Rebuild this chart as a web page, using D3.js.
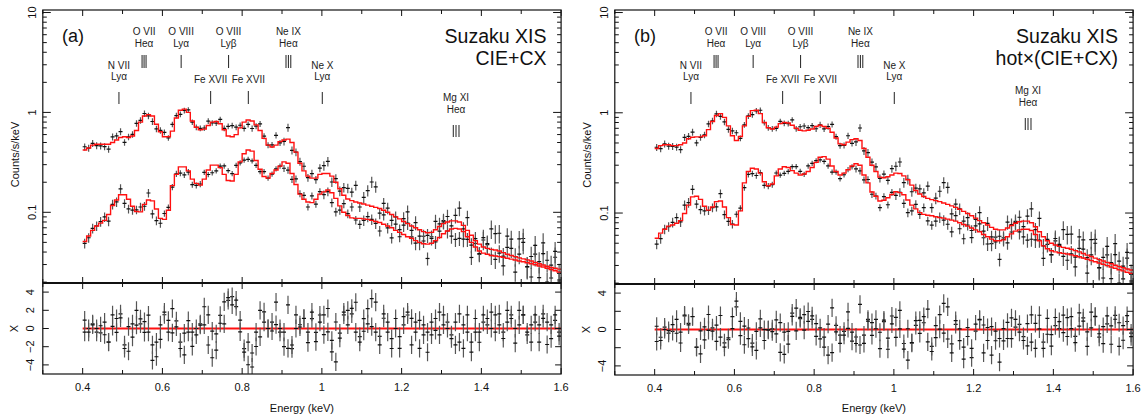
<!DOCTYPE html>
<html><head><meta charset="utf-8">
<script src="https://cdn.jsdelivr.net/npm/d3@7"></script>
<style>
body{margin:0;background:#fff}
svg text{font-family:"Liberation Sans",Arial,Helvetica,sans-serif}
</style>
</head><body>
<svg id="chart" width="1148" height="418"></svg>
<script>
// ---------------- data ----------------
// spectral channel grid (keV)
const binStart = 0.40, binWidth = 0.01;

// observed spectra (counts/s/keV), one value per 0.01 keV channel, 0.40-1.60 keV
const countsUpper = [
0.453,0.440,0.490,0.465,0.462,0.455,0.429,0.568,0.581,0.642,
0.502,0.569,0.603,0.776,0.831,0.975,0.922,0.811,0.683,0.660,
0.632,0.556,0.758,0.930,0.957,1.046,1.060,0.799,0.710,0.693,
0.698,0.820,0.785,0.780,0.850,0.693,0.726,0.738,0.711,0.744,
0.693,0.760,0.690,0.730,0.767,0.578,0.470,0.473,0.590,0.496,
0.512,0.705,0.417,0.400,0.322,0.289,0.222,0.244,0.212,0.277,
0.293,0.323,0.201,0.217,0.163,0.177,0.174,0.159,0.186,0.113,
0.141,0.165,0.201,0.180,0.098,0.123,0.110,0.083,0.090,0.067,
0.0865,0.101,0.0567,0.0788,0.0496,0.0576,0.0587,0.0567,0.0813,0.0647,
0.0826,0.0908,0.0733,0.0931,0.110,0.0539,0.0886,0.0470,0.0487,0.0382,
0.0528,0.0475,0.0683,0.0613,0.0617,0.0364,0.0445,0.0540,0.0360,0.0382,
0.0547,0.0284,0.0361,0.0382,0.0222,0.0495,0.0200,0.0220,0.0355,0.0245];

const countsLower = [
0.0489,0.0556,0.0690,0.0730,0.0807,0.0899,0.0815,0.120,0.127,0.172,
0.123,0.108,0.105,0.106,0.113,0.115,0.156,0.0963,0.0824,0.0777,
0.0973,0.112,0.179,0.243,0.247,0.237,0.253,0.189,0.186,0.192,
0.251,0.239,0.249,0.260,0.290,0.291,0.261,0.244,0.295,0.313,
0.333,0.339,0.327,0.295,0.256,0.256,0.220,0.241,0.272,0.290,
0.276,0.264,0.214,0.216,0.154,0.148,0.113,0.146,0.121,0.161,
0.150,0.161,0.125,0.101,0.105,0.122,0.0969,0.113,0.0837,0.0757,
0.0830,0.0904,0.0850,0.0773,0.0650,0.0941,0.0697,0.0554,0.0760,0.0569,
0.0745,0.0781,0.0659,0.0491,0.0578,0.0516,0.0345,0.0547,0.0505,0.0767,
0.0803,0.0650,0.0578,0.0536,0.0548,0.0684,0.0536,0.0353,0.0546,0.0385,
0.0557,0.0487,0.0370,0.0338,0.0391,0.0291,0.0578,0.0436,0.0252,0.0543,
0.0500,0.0286,0.0225,0.0466,0.0321,0.0385,0.0331,0.0296,0.0406,0.0210];

// 1-sigma relative errors, per 0.1 keV band starting at 0.4 keV
const relErrUpper = [0.08,0.075,0.065,0.065,0.07,0.09,0.11,0.13,0.16,0.17,0.21,0.25];
const relErrLower = [0.11,0.10,0.07,0.06,0.06,0.08,0.10,0.12,0.15,0.16,0.20,0.24];

// model (a) CIE+CX
const modelUpperA = [
0.42,0.44,0.47,0.48,0.48,0.48,0.48,0.50,0.53,0.56,
0.57,0.56,0.58,0.66,0.80,0.92,0.95,0.92,0.76,0.64,
0.57,0.57,0.65,0.88,1.05,1.08,1.00,0.82,0.71,0.67,
0.68,0.74,0.80,0.81,0.77,0.67,0.58,0.57,0.60,0.70,
0.80,0.84,0.82,0.75,0.66,0.55,0.47,0.45,0.47,0.51,
0.53,0.54,0.50,0.40,0.31,0.26,0.23,0.22,0.22,0.24,
0.245,0.245,0.23,0.20,0.172,0.148,0.136,0.131,0.127,0.124,
0.121,0.118,0.115,0.112,0.109,0.105,0.100,0.095,0.090,0.086,
0.081,0.077,0.073,0.070,0.067,0.064,0.0625,0.063,0.067,0.072,
0.077,0.080,0.082,0.082,0.080,0.074,0.066,0.059,0.052,0.048,
0.045,0.0435,0.0425,0.042,0.041,0.0395,0.038,0.037,0.036,0.035,
0.0342,0.0334,0.0325,0.0315,0.0305,0.0297,0.0288,0.0281,0.0275,0.027];
const modelLowerA = [
0.051,0.058,0.066,0.073,0.078,0.083,0.095,0.117,0.133,0.150,
0.150,0.135,0.115,0.102,0.101,0.120,0.133,0.130,0.108,0.087,
0.085,0.105,0.185,0.240,0.285,0.285,0.260,0.215,0.195,0.187,
0.215,0.265,0.297,0.297,0.280,0.240,0.208,0.206,0.240,0.320,
0.385,0.420,0.410,0.330,0.270,0.228,0.220,0.245,0.265,0.290,
0.320,0.310,0.245,0.190,0.152,0.135,0.127,0.125,0.135,0.152,
0.160,0.167,0.157,0.138,0.116,0.100,0.093,0.088,0.087,0.087,
0.086,0.085,0.083,0.081,0.079,0.076,0.073,0.070,0.066,0.063,
0.060,0.057,0.055,0.052,0.050,0.0485,0.048,0.049,0.052,0.056,
0.061,0.065,0.068,0.069,0.068,0.064,0.057,0.050,0.045,0.041,
0.039,0.038,0.037,0.0365,0.036,0.0355,0.0347,0.034,0.0333,0.0326,
0.032,0.0313,0.0306,0.0298,0.029,0.0283,0.0275,0.0268,0.026,0.0252];

// model (b) hot x (CIE+CX)
const modelUpperB = [
0.44,0.47,0.48,0.48,0.47,0.47,0.48,0.50,0.55,0.57,
0.575,0.575,0.59,0.68,0.82,0.94,0.98,0.90,0.74,0.59,
0.53,0.58,0.74,0.92,1.05,1.06,0.98,0.80,0.71,0.69,
0.72,0.78,0.80,0.79,0.75,0.70,0.67,0.66,0.67,0.69,
0.73,0.75,0.73,0.70,0.64,0.56,0.49,0.48,0.51,0.54,
0.55,0.53,0.44,0.36,0.30,0.26,0.228,0.225,0.23,0.24,
0.25,0.248,0.235,0.215,0.19,0.168,0.155,0.146,0.14,0.136,
0.133,0.13,0.126,0.122,0.118,0.114,0.109,0.104,0.099,0.094,
0.089,0.084,0.080,0.076,0.072,0.069,0.068,0.068,0.071,0.075,
0.079,0.082,0.083,0.083,0.080,0.073,0.065,0.058,0.053,0.050,
0.048,0.0465,0.0455,0.0445,0.0435,0.0422,0.041,0.0395,0.038,0.0368,
0.0355,0.0343,0.0332,0.0322,0.0312,0.0302,0.0293,0.0285,0.0277,0.027];
const modelLowerB = [
0.056,0.063,0.069,0.074,0.076,0.079,0.084,0.099,0.120,0.145,
0.147,0.137,0.117,0.107,0.115,0.130,0.132,0.115,0.090,0.077,
0.076,0.105,0.200,0.260,0.280,0.275,0.250,0.205,0.187,0.195,
0.235,0.275,0.29,0.285,0.265,0.25,0.24,0.245,0.26,0.285,
0.32,0.36,0.365,0.345,0.295,0.26,0.24,0.25,0.27,0.295,
0.31,0.30,0.24,0.20,0.162,0.147,0.132,0.134,0.142,0.153,
0.163,0.160,0.152,0.135,0.12,0.11,0.101,0.097,0.095,0.094,
0.092,0.090,0.089,0.087,0.085,0.083,0.080,0.077,0.074,0.071,
0.068,0.065,0.061,0.058,0.055,0.053,0.053,0.054,0.058,0.062,
0.066,0.068,0.069,0.069,0.067,0.061,0.053,0.047,0.044,0.042,
0.041,0.0402,0.0396,0.039,0.0383,0.0375,0.0366,0.0356,0.0346,0.0336,
0.0327,0.0318,0.0309,0.0299,0.029,0.0281,0.0272,0.0265,0.0257,0.025];

// axis ticks
const energyTicks = [0.4,0.6,0.8,1,1.2,1.4,1.6];
const energyMinorTicks = [0.3,0.5,0.7,0.9,1.1,1.3,1.5];
const countTicks = [0.1,1,10];
const residTicksA = [4,2,0,-2,-4];
const residTicksB = [4,0,-4];
const residTickMarks = [4,2,0,-2,-4];

// emission line identifications
const lineIons = ["N VII","O VII","O VIII","Fe XVII","O VIII","Fe XVII","Ne IX","Ne X","Mg XI"];
const lineTransitions = ["Lyα","Heα","Lyα","","Lyβ","","Heα","Lyα","Heα"];
const lineEnergies = [[0.491],[0.549,0.554,0.559],[0.647],[0.721],[0.766],[0.8155],[0.910,0.916,0.922],[1.001],[1.3296,1.3364,1.3439]];

const panelTags = ["(a)","(b)"];
const panelTitles = ["Suzaku XIS","Suzaku XIS"];
const panelModels = ["CIE+CX","hot×(CIE+CX)"];

// ---------------- layout ----------------
const svg = d3.select("#chart");
const FONT = '"Liberation Sans",Arial,Helvetica,sans-serif';
const lineTier = ["low","high","high","fe","high","fe","high","low","mg"];
const tierLayout = {
  high:{t1:34.5,t2:46.5,m0:55,m1:68},
  low:{t1:68.5,t2:80,m0:92,m1:104},
  fe:{t1:83,t2:null,m0:91,m1:104},
  mg:{t1:101,t2:113,m0:125,m1:137}
};
const panels = [
  {x0:42.8,x1:561.1,yTop:10,yMid:283,yBot:374,mUp:modelUpperA,mLo:modelLowerA,rTicks:residTicksA,mgShift:0,tagX:62,titleX:546.5},
  {x0:614.8,x1:1133.1,yTop:10,yMid:284,yBot:375,mUp:modelUpperB,mLo:modelLowerB,rTicks:residTicksB,mgShift:-7,tagX:634,titleX:1118}
];

const nBins = countsUpper.length;
function errOf(rel, i){ return rel[Math.min(rel.length-1, Math.floor(i/10))]; }

panels.forEach((p, pi) => {
  const g = svg.append("g");
  const x = d3.scaleLinear().domain([0.3,1.6]).range([p.x0,p.x1]);
  const y = d3.scaleLog().domain([0.0196,10.6]).range([p.yMid,p.yTop]);
  const yr = d3.scaleLinear().domain([-5,5]).range([p.yBot,p.yMid]);

  const defs = g.append("defs");
  defs.append("clipPath").attr("id","ct"+pi).append("rect")
    .attr("x",p.x0).attr("y",p.yTop).attr("width",p.x1-p.x0).attr("height",p.yMid-p.yTop);
  defs.append("clipPath").attr("id","cr"+pi).append("rect")
    .attr("x",p.x0).attr("y",p.yMid).attr("width",p.x1-p.x0).attr("height",p.yBot-p.yMid);

  const top = g.append("g").attr("clip-path",`url(#ct${pi})`);
  const res = g.append("g").attr("clip-path",`url(#cr${pi})`);

  const spectra = [
    {c:countsUpper, rel:relErrUpper, m:p.mUp},
    {c:countsLower, rel:relErrLower, m:p.mLo}
  ];

  // residual zero line
  res.append("line").attr("x1",x(0.4)).attr("x2",x(1.6)).attr("y1",yr(0)).attr("y2",yr(0))
    .attr("stroke","#ff1010").attr("stroke-width",2);

  spectra.forEach(s => {
    for (let i=0;i<nBins;i++){
      const lo = binStart + i*binWidth, hi = lo + binWidth, ec = (lo+hi)/2;
      const c = s.c[i], e = errOf(s.rel,i)*c;
      top.append("line").attr("x1",x(ec)).attr("x2",x(ec)).attr("y1",y(Math.max(c-e,0.001))).attr("y2",y(c+e))
        .attr("stroke","#555").attr("stroke-width",1.2);
      top.append("line").attr("x1",x(lo)).attr("x2",x(hi)).attr("y1",y(c)).attr("y2",y(c))
        .attr("stroke","#111").attr("stroke-width",1.2);
      const r = (c - s.m[i])/e;
      res.append("line").attr("x1",x(ec)).attr("x2",x(ec)).attr("y1",yr(r-1)).attr("y2",yr(r+1))
        .attr("stroke","#555").attr("stroke-width",1.2);
      res.append("line").attr("x1",x(lo)).attr("x2",x(hi)).attr("y1",yr(r)).attr("y2",yr(r))
        .attr("stroke","#111").attr("stroke-width",1.2);
    }
  });

  // model step lines
  const stepLine = d3.line().x(d=>x(d[0])).y(d=>y(d[1]));
  spectra.forEach(s => {
    const pts = [];
    s.m.forEach((v,i)=>{ const lo=binStart+i*binWidth; pts.push([lo,v],[lo+binWidth,v]); });
    top.append("path").attr("d",stepLine(pts)).attr("fill","none")
      .attr("stroke","#ff1010").attr("stroke-width",1.4);
  });

  // frames
  const ax = g.append("g").attr("stroke","#111").attr("fill","none");
  ax.append("rect").attr("x",p.x0).attr("y",p.yTop).attr("width",p.x1-p.x0).attr("height",p.yBot-p.yTop).attr("stroke-width",1.2);
  ax.append("line").attr("x1",p.x0).attr("x2",p.x1).attr("y1",p.yMid).attr("y2",p.yMid).attr("stroke-width",1.8);

  // x ticks
  const xt = [...energyTicks.map(v=>[v,6]), ...energyMinorTicks.map(v=>[v,4])];
  xt.forEach(([v,L])=>{
    const xx = x(v);
    ax.append("line").attr("x1",xx).attr("x2",xx).attr("y1",p.yTop).attr("y2",p.yTop+L);
    ax.append("line").attr("x1",xx).attr("x2",xx).attr("y1",p.yMid-L).attr("y2",p.yMid+L);
    ax.append("line").attr("x1",xx).attr("x2",xx).attr("y1",p.yBot).attr("y2",p.yBot-L);
  });
  // log y ticks
  [0.01,0.1,1].forEach(d=>{
    for(let k=1;k<=9;k++){
      const v=k*d; if(v<0.0196||v>10.6) continue;
      const L = k===1?8:4, yy=y(v);
      ax.append("line").attr("x1",p.x0).attr("x2",p.x0+L).attr("y1",yy).attr("y2",yy);
      ax.append("line").attr("x1",p.x1).attr("x2",p.x1-L).attr("y1",yy).attr("y2",yy);
    }
  });
  { const yy=y(10); ax.append("line").attr("x1",p.x0).attr("x2",p.x0+8).attr("y1",yy).attr("y2",yy);
    ax.append("line").attr("x1",p.x1).attr("x2",p.x1-8).attr("y1",yy).attr("y2",yy); }
  residTickMarks.forEach(v=>{
    const yy=yr(v);
    ax.append("line").attr("x1",p.x0).attr("x2",p.x0+6).attr("y1",yy).attr("y2",yy);
    ax.append("line").attr("x1",p.x1).attr("x2",p.x1-6).attr("y1",yy).attr("y2",yy);
  });

  // tick labels
  const tg = g.append("g").attr("font-family",FONT).attr("font-size",11).attr("fill","#111");
  energyTicks.forEach(v=>{
    tg.append("text").attr("x",x(v)).attr("y",p.yBot+16.5).attr("text-anchor","middle").text(d3.format("~g")(v));
  });
  countTicks.forEach(v=>{
    tg.append("text").attr("transform",`translate(${p.x0-7.3},${y(v)}) rotate(-90)`).attr("text-anchor","middle").text(String(v));
  });
  p.rTicks.forEach(v=>{
    tg.append("text").attr("transform",`translate(${p.x0-8.8},${yr(v)}) rotate(-90)`).attr("text-anchor","middle")
      .text(v<0?"\u2212"+Math.abs(v):String(v));
  });
  tg.append("text").attr("transform",`translate(${p.x0-23.8},${(p.yTop+p.yMid)/2+8}) rotate(-90)`).attr("text-anchor","middle").text("Counts/s/keV");
  tg.append("text").attr("transform",`translate(${p.x0-25.3},${yr(0)}) rotate(-90)`).attr("text-anchor","middle").text("X");
  tg.append("text").attr("x",(p.x0+p.x1)/2).attr("y",411.5).attr("text-anchor","middle").text("Energy (keV)");

  // titles
  const tt = g.append("g").attr("font-family",FONT).attr("fill","#111");
  tt.append("text").attr("x",p.tagX).attr("y",41.5).attr("font-size",18).text(panelTags[pi]);
  tt.append("text").attr("x",p.titleX).attr("y",42.5).attr("font-size",19.5).attr("text-anchor","end").text(panelTitles[pi]);
  tt.append("text").attr("x",p.titleX).attr("y",65).attr("font-size",19.5).attr("text-anchor","end").text(panelModels[pi]);

  // line identifications
  const lg = g.append("g").attr("font-family",FONT).attr("font-size",10).attr("fill","#222");
  lineIons.forEach((ion,k)=>{
    const L = tierLayout[lineTier[k]];
    const sh = lineTier[k]==="mg" ? p.mgShift : 0;
    const es = lineEnergies[k];
    const cx = x(d3.mean(es));
    lg.append("text").attr("x",cx).attr("y",L.t1+sh).attr("text-anchor","middle").text(ion);
    if (lineTransitions[k]) lg.append("text").attr("x",cx).attr("y",L.t2+sh).attr("text-anchor","middle").text(lineTransitions[k]);
    es.forEach(e=>{
      lg.append("line").attr("x1",x(e)).attr("x2",x(e)).attr("y1",L.m0+sh).attr("y2",L.m1+sh)
        .attr("stroke","#222").attr("stroke-width",1);
    });
  });
});
</script>
</body></html>
